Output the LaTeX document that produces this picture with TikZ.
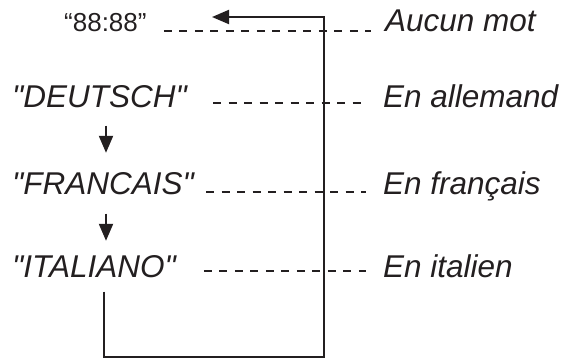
\documentclass[tikz,border=0pt]{standalone}
\usepackage{fontspec}
\setmainfont{Liberation Sans}[Ligatures=TeXOff]
\usetikzlibrary{arrows.meta}
\definecolor{ink}{HTML}{231F20}
\begin{document}
\begin{tikzpicture}[x=1pt, y=-1pt, ink,
    word/.style={anchor=base west, inner sep=0pt, font=\fontsize{31.5}{36}\selectfont\itshape},
    leader/.style={line width=1.3pt, dash pattern=on 8pt off 7.5pt},
    flow/.style={line width=2pt, -{Triangle[length=17pt,width=14pt]}}]
    \useasboundingbox (0,0) rectangle (564,360);
    \node[word, font=\fontsize{26}{30}\selectfont] (clock) at (64,31) {“88:88”};
    \node[word] (de) at (12,107) {"DEUTSCH"};
    \node[word] (fr) at (12,194) {"FRANCAIS"};
    \node[word] (it) at (12,277) {"ITALIANO"};
    \node[word] (none) at (385,31) {Aucun mot};
    \node[word] (ger) at (383,107) {En allemand};
    \node[word] (fre) at (383,194) {En français};
    \node[word] (ita) at (383,277) {En italien};
    \coordinate (ax) at (106,0);
    \coordinate (lx) at (104,0);
    \coordinate (corner) at (324,357);
    \coordinate (back) at (212,17);
    \draw[leader] ([xshift=17pt]clock.base east) -- ([xshift=-14pt]none.base west);
    \draw[leader] ([xshift=26pt,yshift=4pt]de.base east) -- ([xshift=-17pt,yshift=4pt]ger.base west);
    \draw[leader] ([xshift=12pt,yshift=2pt]fr.base east) -- ([xshift=-17pt,yshift=2pt]fre.base west);
    \draw[leader] ([xshift=28pt,yshift=6pt]it.base east) -- ([xshift=-17pt,yshift=6pt]ita.base west);
    \draw[flow, shorten <=18pt, shorten >=19pt] (de.south -| ax) -- (fr.north -| ax);
    \draw[flow, shorten <=19pt, shorten >=14pt] (fr.south -| ax) -- (it.north -| ax);
    \draw[flow, shorten <=14pt] (it.south -| lx) |- (corner) |- (back);
\end{tikzpicture}
\end{document}
